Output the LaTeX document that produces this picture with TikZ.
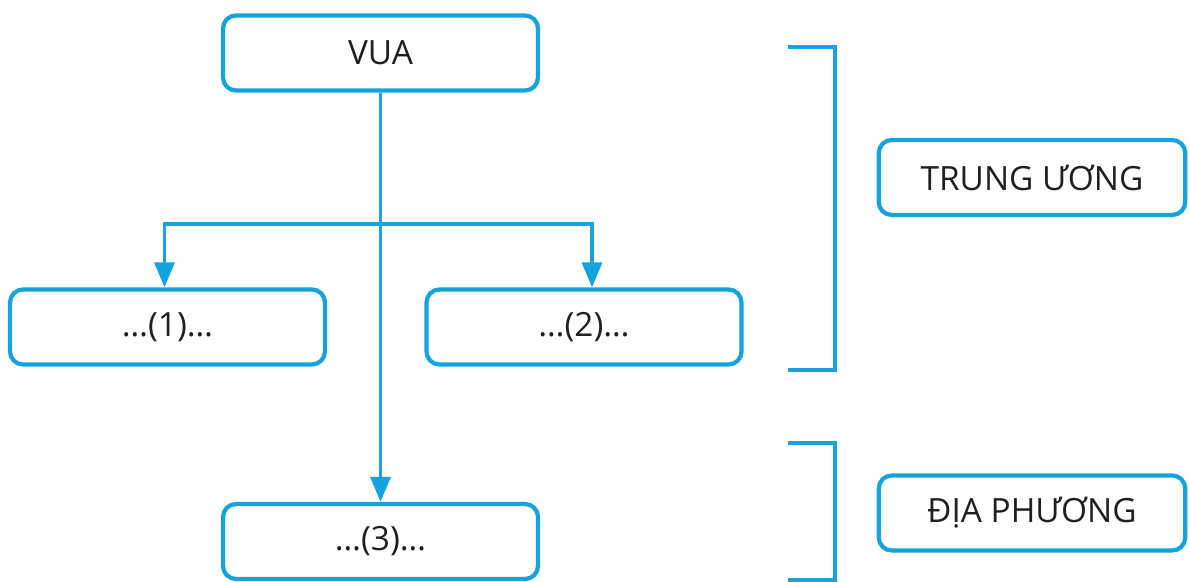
\documentclass[tikz,border=0pt]{standalone}
\usepackage{fontspec}
\setmainfont{Open Sans}
\usetikzlibrary{arrows.meta}
\definecolor{sky}{RGB}{22,163,221}
\definecolor{ink}{RGB}{35,31,32}

\begin{document}
\begin{tikzpicture}[
	box/.style={draw=sky,line width=2.4pt,rounded corners=0.26cm,minimum width=6.3cm,minimum height=1.5cm,text=ink,font=\fontsize{19}{22}\selectfont},
	arr/.style={draw=sky,line width=2pt,-{Triangle[length=0.5cm,width=0.4cm]}},
	brk/.style={draw=sky,line width=2.2pt}]
	\useasboundingbox (0,0) rectangle (23.78,11.64);
	% so do bo may
	\node[box] (vua) at (7.61,10.58) {VUA};
	\node[box] (o1) at (3.35,5.1) {…(1)…};
	\node[box] (o2) at (11.68,5.1) {…(2)…};
	\node[box] (o3) at (7.61,0.81) {…(3)…};
	\node[box,minimum width=6.13cm] (tw) at (20.64,8.09) {TRUNG ƯƠNG};
	\node[box,minimum width=6.13cm] (dp) at (20.64,1.38) {ĐỊA PHƯƠNG};
				\draw[arr] (vua.south) -- (o3.north);
				\coordinate (br) at (7.6,7.16);
				\draw[arr] (br) -| ([xshift=-0.06cm]o1.north);
				\draw[arr] (br) -| ([xshift=0.16cm]o2.north);
				% ngoac
				\draw[brk] (15.76,10.7) -- (16.7,10.7) -- (16.7,4.24) -- (15.76,4.24);
				\draw[brk] (15.76,2.78) -- (16.7,2.78) -- (16.7,0.04) -- (15.76,0.04);
\end{tikzpicture}
\end{document}
